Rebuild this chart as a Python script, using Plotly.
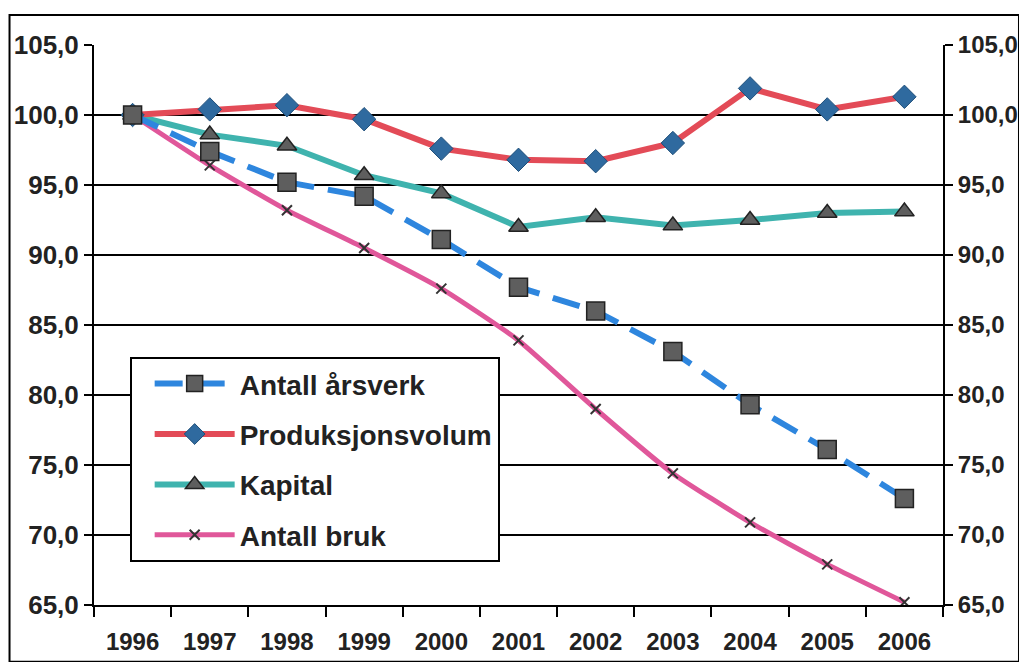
import plotly.graph_objects as go

years = ["1996", "1997", "1998", "1999", "2000", "2001", "2002", "2003", "2004", "2005", "2006"]
arsverk = [100.0, 97.4, 95.2, 94.2, 91.1, 87.7, 86.0, 83.1, 79.3, 76.1, 72.6]
produksjon = [100.0, 100.4, 100.7, 99.7, 97.6, 96.8, 96.7, 98.0, 101.9, 100.4, 101.3]
kapital = [100.0, 98.6, 97.8, 95.7, 94.4, 92.0, 92.7, 92.1, 92.5, 93.0, 93.1]
bruk = [100.0, 96.4, 93.2, 90.5, 87.6, 83.9, 79.0, 74.4, 70.9, 67.9, 65.2]
tickvals = [65, 70, 75, 80, 85, 90, 95, 100, 105]

fig = go.Figure()
fig.add_trace(go.Scatter(x=years, y=bruk, name="Antall bruk", legendgroup="d", legendrank=4,
    mode="lines+markers", line=dict(color="#E0579A", width=5, shape="spline", smoothing=0.5),
    marker=dict(symbol="x-thin", size=10, line=dict(color="#333333", width=2))))
fig.add_trace(go.Scatter(x=years, y=kapital, name="Kapital", legendgroup="c", legendrank=3,
    mode="lines+markers", line=dict(color="#3FB3AE", width=6),
    marker=dict(symbol="triangle-up", size=17, color="#5E5E5E", line=dict(color="#222", width=1.5))))
fig.add_trace(go.Scatter(x=years, y=produksjon, name="Produksjonsvolum", legendgroup="b", legendrank=2,
    mode="lines+markers", line=dict(color="#E34B57", width=6),
    marker=dict(symbol="diamond", size=18, color="#2F6A9F", line=dict(color="#1F4F7A", width=1))))
fig.add_trace(go.Scatter(x=years, y=arsverk, name="Antall årsverk", legendgroup="a", legendrank=1,
    mode="lines+markers", line=dict(color="#2E86DE", width=6, dash="28px,14px"),
    marker=dict(symbol="square", size=18, color="#5E5E5E", line=dict(color="#222", width=1.5))))
fig.add_trace(go.Scatter(x=years, y=arsverk, yaxis="y2", showlegend=False, hoverinfo="skip",
    mode="lines", line=dict(color="rgba(0,0,0,0)", width=0)))

ytickfont = dict(family="Liberation Sans, Arial", size=26, color="#222222", weight="bold")
y2tickfont = dict(family="Liberation Sans, Arial", size=24, color="#222222", weight="bold")
xtickfont = dict(family="Liberation Sans, Arial", size=24, color="#222222", weight="bold")
fig.update_layout(
    width=1011, height=654,
    margin=dict(l=86, r=76, t=37, b=57, autoexpand=False),
    paper_bgcolor="white", plot_bgcolor="white",
    separators=", ",
    font=dict(family="Liberation Sans, Arial", color="#222222"),
    xaxis=dict(type="category", range=[-0.5, 10.5], autorange=False, tickson="boundaries",
               ticks="outside", ticklen=10, tickwidth=2, automargin=False,
               tickcolor="black", showline=True, linecolor="black", linewidth=2,
               showgrid=False, tickfont=xtickfont, ticklabelstandoff=14),
    yaxis=dict(range=[65, 105], tickvals=tickvals, tickformat=".1f", ticks="outside", ticklen=8,
               tickwidth=2, tickcolor="black", showline=True, linecolor="black", linewidth=2,
               automargin=False,
               showgrid=True, gridcolor="black", gridwidth=2, zeroline=False, tickfont=ytickfont),
    yaxis2=dict(range=[65, 105], tickvals=tickvals, tickformat=".1f", overlaying="y", side="right",
                ticks="outside", ticklen=8, tickwidth=2, tickcolor="black", showline=True,
                automargin=False,
                linecolor="black", linewidth=2, showgrid=False, zeroline=False, tickfont=y2tickfont),
    legend=dict(x=0.042, y=0.443, xanchor="left", yanchor="top", bgcolor="white",
                bordercolor="black", borderwidth=2, itemwidth=80, tracegroupgap=11,
                indentation=18,
                font=dict(family="Liberation Sans, Arial", size=28, color="#222222", weight="bold"),
                traceorder="grouped"),
    shapes=[dict(type="rect", xref="paper", yref="paper", x0=-0.0995, x1=1.0895, y0=-0.1015, y1=1.0535,
                 line=dict(color="black", width=2), layer="below")],
    showlegend=True,
)
fig.write_html("out.html")
